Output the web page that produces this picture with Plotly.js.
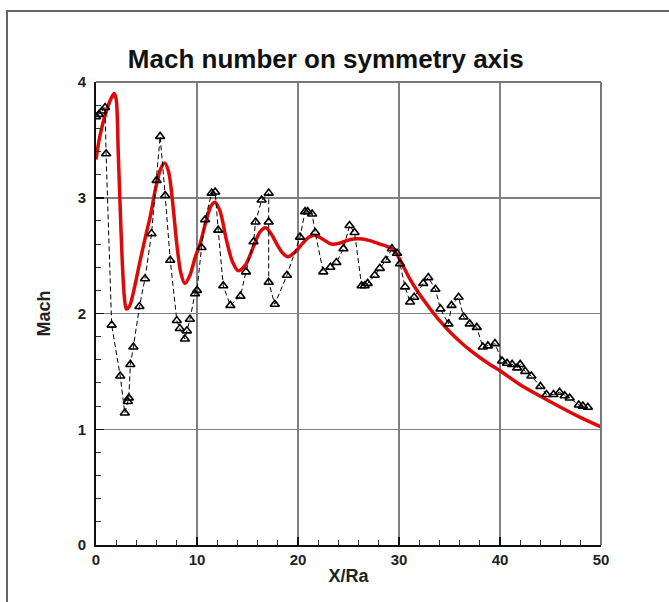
<!DOCTYPE html>
<html>
<head>
<meta charset="utf-8">
<script src="https://cdn.plot.ly/plotly-3.0.1.min.js"></script>
<style>
  html, body { margin: 0; padding: 0; background: #fff; }
  #wrap { position: relative; width: 669px; height: 602px; }
  #chart { position: absolute; left: 0; top: 0; width: 669px; height: 602px; }
  #frame { position: absolute; left: 6px; top: 10px; width: 663px; height: 592px;
           border-top: 2px solid #666; border-left: 2px solid #666; box-sizing: border-box;
           pointer-events: none; }
</style>
</head>
<body>
<div id="wrap">
  <div id="chart"></div>
  <div id="frame"></div>
</div>
<script>
// Red solid curve (computed)
const redX = [0, 0.4, 1.0, 1.5, 1.8, 2.0, 2.2, 2.4, 2.6, 2.8, 3.0, 3.3, 3.8, 4.4, 5.0, 5.4, 5.9, 6.4, 6.8, 7.2, 7.6, 8.0, 8.4, 8.8, 9.3, 9.8, 10.3, 10.9, 11.4, 11.8, 12.3, 12.9, 13.5, 14.1, 14.8, 15.6, 16.2, 16.8, 17.4, 17.9, 18.5, 19.0, 19.7, 20.5, 21.1, 21.7, 22.5, 23.3, 24.2, 25.2, 26.1, 27.1, 28.1, 28.8, 29.3, 29.8, 30.3, 31.0, 32.0, 33.0, 34.0, 35.0, 36.0, 37.0, 38.0, 39.0, 40.0, 42.0, 44.0, 46.0, 48.0, 50];
const redM = [3.33, 3.54, 3.74, 3.86, 3.90, 3.85, 3.40, 2.90, 2.45, 2.15, 2.04, 2.06, 2.22, 2.47, 2.70, 2.85, 3.08, 3.25, 3.30, 3.22, 2.95, 2.60, 2.35, 2.26, 2.33, 2.48, 2.60, 2.80, 2.93, 2.96, 2.88, 2.64, 2.45, 2.37, 2.42, 2.58, 2.70, 2.74, 2.68, 2.60, 2.52, 2.49, 2.53, 2.61, 2.66, 2.675, 2.64, 2.60, 2.61, 2.64, 2.645, 2.63, 2.60, 2.58, 2.56, 2.51, 2.43, 2.31, 2.17, 2.05, 1.94, 1.845, 1.76, 1.685, 1.62, 1.56, 1.505, 1.385, 1.285, 1.19, 1.10, 1.02];

// Black dashed series with triangles (measured)
const expX = [0.0, 0.3, 0.6, 0.9, 1.0, 1.55, 2.4, 2.85, 3.15, 3.25, 3.4, 3.7, 4.3, 4.85, 5.5, 6.0, 6.35, 6.85, 7.35, 8.0, 8.3, 8.8, 9.0, 9.3, 9.8, 10.0, 10.45, 10.8, 11.45, 11.8, 12.1, 12.6, 13.3, 14.3, 14.85, 15.6, 15.8, 16.4, 17.1, 17.1, 17.1, 17.7, 18.9, 20.2, 20.7, 20.95, 21.4, 21.7, 22.5, 23.2, 23.8, 24.5, 25.1, 25.6, 26.3, 26.6, 26.9, 27.6, 28.1, 28.7, 29.3, 29.8, 30.1, 30.6, 31.1, 31.5, 32.4, 32.9, 33.6, 34.1, 34.9, 35.2, 35.9, 36.4, 37.0, 37.7, 38.3, 38.8, 39.5, 40.2, 40.7, 41.2, 41.7, 42.0, 42.5, 43.1, 44.0, 44.6, 45.3, 45.9, 46.4, 46.9, 47.8, 48.2, 48.7];
const expM = [3.70, 3.72, 3.75, 3.78, 3.38, 1.90, 1.46, 1.14, 1.24, 1.27, 1.56, 1.71, 2.06, 2.30, 2.69, 3.15, 3.53, 3.02, 2.46, 1.94, 1.87, 1.78, 1.85, 1.95, 2.17, 2.20, 2.57, 2.81, 3.04, 3.05, 2.72, 2.24, 2.07, 2.15, 2.36, 2.62, 2.79, 2.98, 3.04, 2.79, 2.27, 2.08, 2.33, 2.66, 2.88, 2.88, 2.86, 2.70, 2.36, 2.40, 2.44, 2.56, 2.76, 2.70, 2.24, 2.24, 2.26, 2.33, 2.39, 2.46, 2.56, 2.52, 2.43, 2.23, 2.10, 2.14, 2.26, 2.31, 2.21, 2.04, 1.91, 2.07, 2.14, 1.97, 1.91, 1.88, 1.71, 1.72, 1.74, 1.59, 1.57, 1.56, 1.53, 1.56, 1.50, 1.46, 1.37, 1.30, 1.30, 1.32, 1.29, 1.27, 1.21, 1.20, 1.19];

const xTicks = [0, 10, 20, 30, 40, 50];
const yTicks = [0, 1, 2, 3, 4];

const traces = [
  {
    x: redX, y: redM, type: 'scatter', mode: 'lines',
    line: { color: '#dd0a0a', width: 3.5, shape: 'spline', smoothing: 0.8 },
    hoverinfo: 'skip', showlegend: false
  },
  {
    x: expX, y: expM, type: 'scatter', mode: 'lines+markers',
    line: { color: '#000', width: 1, dash: '5px,3px' },
    marker: { symbol: 'triangle-up-open', size: 8, color: '#000', line: { width: 1.6, color: '#000' } },
    hoverinfo: 'skip', showlegend: false
  }
];

const tickFont = { family: 'Liberation Sans, Arial, sans-serif', size: 15, color: '#222', weight: 'bold' };
const titleFont = { family: 'Liberation Sans, Arial, sans-serif', size: 18, color: '#222', weight: 'bold' };

const layout = {
  width: 669, height: 602,
  margin: { l: 96, r: 68, t: 82, b: 57 },
  paper_bgcolor: '#fff', plot_bgcolor: '#fff',
  title: {
    text: 'Mach number on symmetry axis',
    font: { family: 'Liberation Sans, Arial, sans-serif', size: 26, color: '#111', weight: 'bold' },
    xref: 'container', yref: 'container', x: 0.487, y: 0.902, xanchor: 'center', yanchor: 'middle'
  },
  xaxis: {
    range: [0, 50], tickvals: xTicks, ticktext: xTicks.map(String),
    showgrid: true, gridcolor: '#808080', gridwidth: 1.5,
    zeroline: false, showline: true, linecolor: '#111', linewidth: 2,
    ticks: 'inside', ticklen: 8, tickwidth: 1.5, tickcolor: '#111',
    minor: { dtick: 2, ticks: 'inside', ticklen: 5, tickwidth: 1, tickcolor: '#333', showgrid: false },
    tickfont: tickFont,
    title: { text: 'X/Ra', font: titleFont, standoff: 2 },
    fixedrange: true
  },
  yaxis: {
    range: [0, 4], tickvals: yTicks, ticktext: yTicks.map(String),
    showgrid: true, gridcolor: '#808080', gridwidth: 1.5,
    zeroline: false, showline: true, linecolor: '#111', linewidth: 2,
    ticks: 'inside', ticklen: 8, tickwidth: 1.5, tickcolor: '#111',
    ticklabelstandoff: 5,
    minor: { dtick: 0.2, ticks: 'inside', ticklen: 5, tickwidth: 1, tickcolor: '#333', showgrid: false },
    tickfont: tickFont,
    title: { text: 'Mach', font: titleFont, standoff: 22 },
    fixedrange: true
  },
  shapes: [
    { type: 'line', xref: 'paper', yref: 'paper', x0: 0, x1: 1, y0: 1, y1: 1, line: { color: '#777', width: 2 } },
    { type: 'line', xref: 'paper', yref: 'paper', x0: 1, x1: 1, y0: 0, y1: 1, line: { color: '#777', width: 2 } }
  ]
};

Plotly.newPlot('chart', traces, layout, { displayModeBar: false, staticPlot: true });
</script>
</body>
</html>
